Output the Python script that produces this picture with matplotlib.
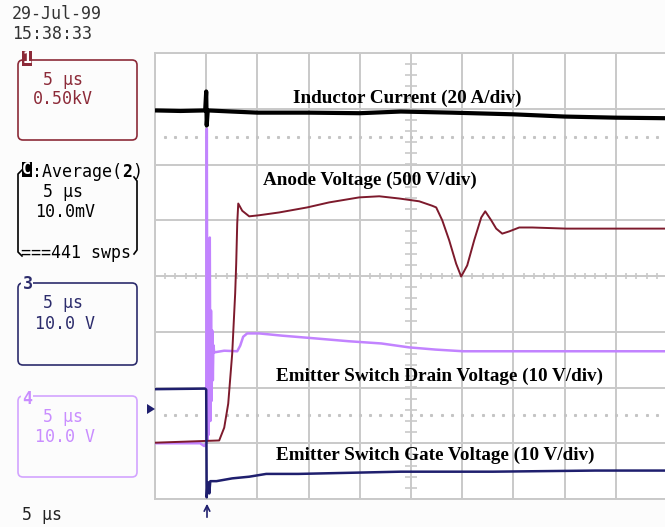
import matplotlib
matplotlib.use("Agg")
import matplotlib.pyplot as plt
from matplotlib.patches import FancyBboxPatch, Rectangle, Polygon
import numpy as np

# ---------------- data (time in microseconds, amplitude in divisions) ----------------
ind_t = [-5.0, -2.5, -0.1, 0.0, 0.05, 0.15, 2.5, 5.0, 10.0, 15.0, 19.0, 24.0, 30.0, 35.0, 40.0, 45.0]
ind_v = [2.97, 2.96, 2.97, 3.31, 2.70, 2.97, 2.95, 2.93, 2.93, 2.92, 2.95, 2.93, 2.90, 2.86, 2.84, 2.83]

anode_t = [-5.0, 1.27, 1.76, 2.15, 2.54, 2.83, 2.93, 3.03, 3.13, 3.52, 4.2, 5.18, 7.13, 9.86,
           12.0, 14.94, 16.9, 18.85, 20.8, 22.07, 22.46, 23.05, 23.73, 24.41, 24.9, 25.49,
           26.17, 26.86, 27.25, 27.83, 28.32, 28.91, 29.59, 30.57, 31.84, 35.16, 45.0]
anode_v = [-2.99, -2.95, -2.72, -2.29, -1.39, -0.31, 0.22, 0.94, 1.30, 1.17, 1.07, 1.09, 1.14, 1.23,
           1.32, 1.41, 1.43, 1.39, 1.34, 1.26, 1.23, 1.00, 0.64, 0.22, -0.01, 0.19,
           0.64, 1.05, 1.16, 1.00, 0.85, 0.76, 0.80, 0.87, 0.87, 0.85, 0.85]

drain_t = [-5.0, -0.6, -0.2, 0.0, 0.06, 0.12, 0.18, 0.23, 0.29, 0.35, 0.41, 0.47, 0.53, 0.59,
           0.65, 0.70, 0.78, 1.76, 3.03, 3.32, 3.61, 4.0, 5.18, 7.4, 10.7, 13.9, 17.1, 19.8,
           22.4, 25.1, 30.0, 35.0, 45.0]
drain_v = [-3.0, -3.0, -3.05, -3.0, 2.64, -2.95, -0.08, -2.85, -0.26, 0.69, -2.6, -0.62, -2.24, -0.98,
           -1.87, -1.24, -1.37, -1.34, -1.35, -1.25, -1.09, -1.03, -1.03, -1.07, -1.12, -1.17, -1.21, -1.28,
           -1.32, -1.35, -1.35, -1.35, -1.35]

gate_t = [-5.0, -0.1, 0.0, 0.05, 0.12, 0.2, 0.3, 0.4, 1.0, 2.54, 4.2, 5.86, 9.0, 14.0, 19.0, 28.0, 38.0, 45.0]
gate_v = [-2.03, -2.02, -2.04, -3.97, -3.75, -3.70, -3.90, -3.68, -3.68, -3.63, -3.60, -3.55, -3.55,
          -3.53, -3.51, -3.51, -3.49, -3.49]

trace_labels = ["Inductor Current (20 A/div)", "Anode Voltage (500 V/div)",
                "Emitter Switch Drain Voltage (10 V/div)", "Emitter Switch Gate Voltage (10 V/div)"]

# ---------------- colours ----------------
C_BLACK = "#000000"
C_MAROON = "#7d1a2c"
C_PURPLE = "#c283ff"
C_NAVY = "#1f1f6e"
C_GRID = "#c9c9c9"
C_BOX1 = "#8c2a38"
C_BOX3 = "#2c2c6c"
C_BOX4 = "#d3a4ff"
C_TXT4 = "#c98dff"

W, H = 665, 527
fig = plt.figure(figsize=(W / 100, H / 100), dpi=100, facecolor="#fcfcfc")

# main scope graticule: 10 x 8 divisions
ax = fig.add_axes([155 / W, (H - 499) / H, 512 / W, 446 / H])
ax.set_facecolor("white")
ax.set_xlim(-5, 45)
ax.set_ylim(-4, 4)
ax.set_xticks(np.arange(-5, 46, 5))
ax.set_yticks(np.arange(-4, 5, 1))
ax.grid(True, color=C_GRID, lw=1.4)
ax.tick_params(length=0, labelbottom=False, labelleft=False)
for s in ax.spines.values():
    s.set_color(C_GRID)
    s.set_linewidth(1.4)

# centre-axis minor ticks
ax.plot(np.arange(-5, 45.01, 1.0), np.zeros(51), ls="none", marker="|", ms=5, mew=1.2, color=C_GRID)
ax.plot(np.full(41, 20.0), np.arange(-4, 4.01, 0.2), ls="none", marker="_", ms=8, mew=1.2, color=C_GRID)
# dotted reference rows at +/-2.5 div
ax.plot(np.arange(-4, 45, 1.0), np.full(49, 2.5), ls="none", marker="s", ms=1.2, color="#c4c4c4")
ax.plot(np.arange(-4, 45, 1.0), np.full(49, -2.5), ls="none", marker="s", ms=1.2, color="#c4c4c4")

# traces
ax.plot(drain_t, drain_v, color=C_PURPLE, lw=1.8, zorder=3)
ax.plot(anode_t, anode_v, color=C_MAROON, lw=1.4, zorder=4)
ax.plot(gate_t, gate_v, color=C_NAVY, lw=1.8, zorder=5)
ax.plot(ind_t, ind_v, color=C_BLACK, lw=3.0, zorder=6)

# ---------------- overlay in pixel coordinates ----------------
ov = fig.add_axes([0, 0, 1, 1], facecolor="none")
ov.set_xlim(0, W)
ov.set_ylim(H, 0)
ov.axis("off")

serif = dict(family="Liberation Serif", weight="bold", fontsize=13.8, color="black", va="baseline", ha="left")
ov.text(293, 103, trace_labels[0], **serif)
ov.text(263, 185, trace_labels[1], **serif)
ov.text(276, 381, trace_labels[2], **serif)
ov.text(276, 460, trace_labels[3], **serif)

mono = dict(family="DejaVu Sans Mono", fontsize=12, va="center", ha="left")
ov.text(12, 14, "29-Jul-99", color="#333333", **mono)
ov.text(12, 34, "15:38:33", color="#333333", **mono)

def rbox(x0, y0, x1, y1, color):
    ov.add_patch(FancyBboxPatch((x0, y0), x1 - x0, y1 - y0,
                                boxstyle="round,pad=0,rounding_size=5",
                                fc="none", ec=color, lw=1.2))

# channel 1 box
rbox(18, 60, 137, 140, C_BOX1)
ov.add_patch(Rectangle((22, 51), 9.5, 15, fc=C_BOX1, ec="none"))
ov.text(26.8, 58.5, "1", color="white", family="DejaVu Sans Mono", weight="bold",
        fontsize=11, ha="center", va="center")
ov.text(43, 80, "5 µs", color=C_BOX1, **mono)
ov.text(33, 99, "0.50kV", color=C_BOX1, **mono)

# math channel C brackets
ov.plot([22, 18, 18, 22], [170, 174, 252, 256], color="black", lw=1.2)
ov.plot([134, 137, 137, 134], [177, 181, 250, 254], color="black", lw=1.2)
ov.add_patch(Rectangle((22, 162), 9.5, 15, fc="black", ec="none"))
ov.text(26.8, 169.5, "C", color="white", family="DejaVu Sans Mono", weight="bold",
        fontsize=11, ha="center", va="center")
ov.text(32, 172, ":Average(", color="black", **mono)
ov.text(122, 172, "2", color="black", family="DejaVu Sans Mono", weight="bold",
        fontsize=12, va="center", ha="left")
ov.text(132, 172, ")", color="black", **mono)
ov.text(43, 192, "5 µs", color="black", **mono)
ov.text(35, 212, "10.0mV", color="black", **mono)
ov.text(21, 253, "===441 swps", color="black", **mono)

# channel 3 box
rbox(18, 283, 137, 365, C_BOX3)
ov.add_patch(Rectangle((21, 276), 12, 12, fc="#fcfcfc", ec="none"))
ov.text(27.5, 284, "3", color=C_BOX3, family="DejaVu Sans Mono", weight="bold",
        fontsize=12, ha="center", va="center")
ov.text(43, 303, "5 µs", color=C_BOX3, **mono)
ov.text(35, 324, "10.0 V", color=C_BOX3, **mono)

# channel 4 box
rbox(18, 396, 137, 477, C_BOX4)
ov.add_patch(Rectangle((21, 390), 12, 12, fc="#fcfcfc", ec="none"))
ov.text(27.5, 399, "4", color=C_TXT4, family="DejaVu Sans Mono", weight="bold",
        fontsize=12, ha="center", va="center")
ov.text(43, 417, "5 µs", color=C_TXT4, **mono)
ov.text(35, 437, "10.0 V", color=C_TXT4, **mono)

ov.text(22, 515, "5 µs", color="#222222", **mono)

# level marker and trigger arrow
ov.add_patch(Polygon([[147, 404], [155, 409], [147, 414]], closed=True, fc=C_NAVY, ec="none"))
ov.annotate("", xy=(207, 501), xytext=(207, 520),
            arrowprops=dict(arrowstyle="->", color=C_NAVY, lw=1.2, mutation_scale=10))

fig.savefig("out.png", dpi=100, facecolor=fig.get_facecolor())
